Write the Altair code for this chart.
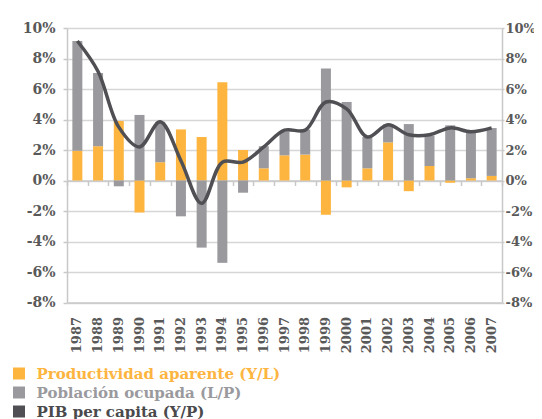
import altair as alt
import pandas as pd

years = [str(y) for y in range(1987, 2008)]
productividad = [1.95, 2.25, 3.9, -2.1, 1.2, 3.35, 2.85, 6.45, 2.0, 0.8, 1.65,
                 1.7, -2.25, -0.45, 0.8, 2.5, -0.7, 0.95, -0.15, 0.15, 0.3]
poblacion = [7.2, 4.8, -0.38, 4.3, 2.65, -2.35, -4.4, -5.4, -0.8, 1.45, 1.57,
             1.64, 7.35, 5.15, 2.05, 1.18, 3.7, 2.0, 3.62, 3.14, 3.14]
pib_pc = [9.15, 7.15, 3.5, 2.2, 3.85, 1.3, -1.5, 1.2, 1.2, 2.2, 3.3,
          3.3, 5.15, 4.7, 2.85, 3.65, 3.0, 3.0, 3.45, 3.2, 3.45]
series = ["Productividad aparente (Y/L)", "Población ocupada (L/P)", "PIB per capita (Y/P)"]
colors = ["#FDB540", "#9A9A9E", "#505054"]
text_colors = ["#FDB540", "#9A9A9E", "#4A4A4D"]
y_ticks = list(range(-8, 11, 2))

rows = []
for i, yr in enumerate(years):
    rows.append({"year": yr, "serie": series[0], "valor": productividad[i], "orden": 0})
    rows.append({"year": yr, "serie": series[1], "valor": poblacion[i], "orden": 1})
bars_df = pd.DataFrame(rows)
line_df = pd.DataFrame({"year": years, "valor": pib_pc})

FONT = "DejaVu Serif"
GRID = "#d6d6d6"
AXIS = "#c8c8c8"
LABEL = "#595959"

x_scale = alt.Scale(domain=years, paddingInner=0, paddingOuter=0)
y_scale = alt.Scale(domain=[-8, 10], nice=False, zero=False)

legend_color_expr = (
    f"datum.label == '{series[0]}' ? '{text_colors[0]}' : "
    f"datum.label == '{series[1]}' ? '{text_colors[1]}' : '{text_colors[2]}'"
)

bars = alt.Chart(bars_df).mark_bar(size=10).encode(
    x=alt.X("year:N", scale=x_scale, sort=years,
            axis=alt.Axis(title=None, orient="bottom", labelAngle=270, ticks=False,
                          tickSize=0, labelPadding=14, labelFont=FONT, labelFontSize=13,
                          labelFontWeight="bold", labelColor=LABEL,
                          domainColor=AXIS, domainWidth=1.5, grid=False)),
    y=alt.Y("valor:Q", scale=y_scale, stack="zero",
            axis=alt.Axis(title=None, orient="left", values=y_ticks,
                          labelExpr="datum.value + '%'", labelFont=FONT, labelFontSize=14,
                          labelFontWeight="bold", labelColor=LABEL, labelPadding=8,
                          tickSize=4, tickColor=AXIS, tickWidth=1.5,
                          domainColor=AXIS, domainWidth=1.5,
                          grid=True, gridColor=GRID, gridWidth=1.5)),
    color=alt.Color("serie:N", scale=alt.Scale(domain=series, range=colors),
                    legend=alt.Legend(title=None, orient="none", legendX=-55.5, legendY=338,
                                      symbolType="square", symbolSize=144,
                                      symbolStrokeWidth=0, labelFont=FONT,
                                      labelFontSize=15, labelFontWeight="bold",
                                      labelColor={"expr": legend_color_expr},
                                      labelOffset=10, rowPadding=3, padding=0,
                                      labelLimit=400)),
    order=alt.Order("orden:Q"),
)

line = alt.Chart(line_df).mark_line(interpolate="catmull-rom", strokeWidth=3.5,
                                     color=colors[2]).encode(
    x=alt.X("year:N", scale=x_scale, sort=years,
            axis=alt.Axis(title=None, orient="bottom", offset=-122, labels=False,
                          tickBand="extent", tickSize=5, tickColor=AXIS, tickWidth=1.5,
                          domainColor=AXIS, domainWidth=1.5, grid=False)),
    y=alt.Y("valor:Q", scale=y_scale,
            axis=alt.Axis(title=None, orient="right", values=y_ticks,
                          labelExpr="datum.value + '%'", labelFont=FONT, labelFontSize=13,
                          labelFontWeight="bold", labelColor=LABEL, labelPadding=1,
                          tickSize=2, tickColor=AXIS, tickWidth=1.5,
                          domainColor=AXIS, domainWidth=1.5, grid=False)),
)

chart = alt.layer(bars, line).resolve_axis(x="independent", y="independent").properties(
    width=435, height=274.5,
    autosize=alt.AutoSizeParams(type="none"),
    padding={"left": 59, "top": 20, "right": 32, "bottom": 116},
).configure_view(stroke=None)

chart.save("out.html", embed_options={"renderer": "svg", "actions": False})
